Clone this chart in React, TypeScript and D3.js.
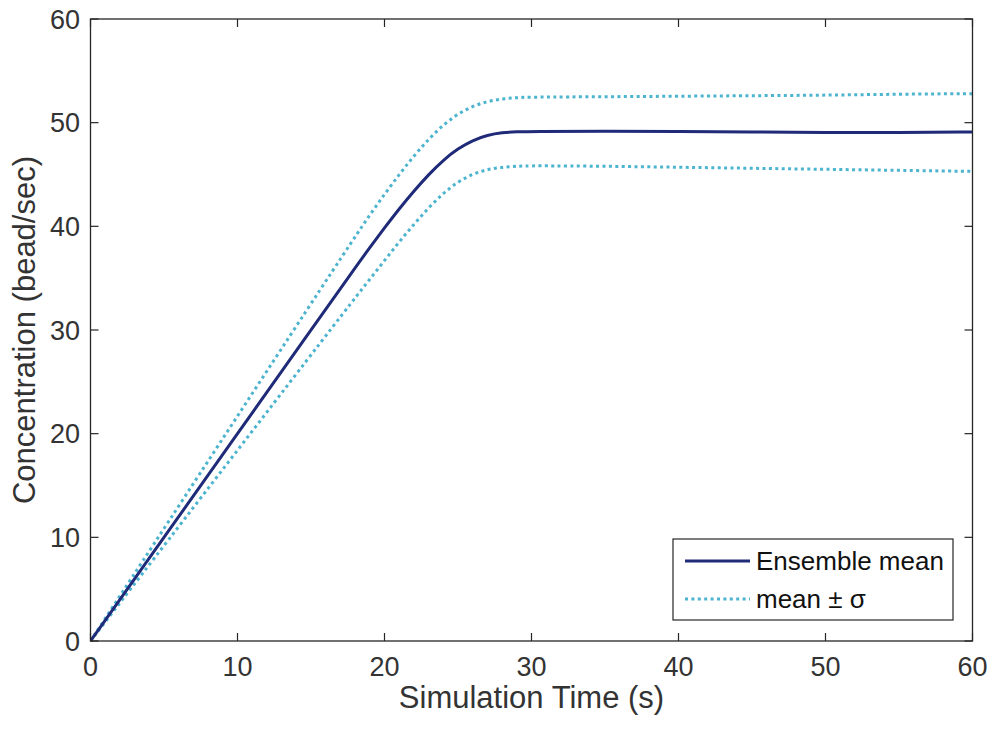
import React from "react";
import * as d3 from "d3";

const timeMean = [0, 2, 5, 10, 15, 18, 19, 20, 21, 22, 23, 24, 25, 26, 27, 28, 29, 30, 35, 40, 45, 50, 55, 60];
const meanValues = [0, 4, 10, 20.0, 30.0, 36.0, 37.95, 39.85, 41.7, 43.4, 45.0, 46.4, 47.5, 48.3, 48.8, 49.05, 49.12, 49.15, 49.2, 49.15, 49.1, 49.05, 49.05, 49.1];

const timeUpper = [0, 2, 5, 10, 15, 18, 19, 20, 21, 22, 23, 24, 25, 26, 27, 28, 29, 30, 35, 40, 45, 50, 55, 60];
const upperValues = [0, 4.34, 10.85, 21.7, 32.55, 39.0, 41.1, 43.1, 45.0, 46.8, 48.4, 49.8, 50.85, 51.6, 52.05, 52.3, 52.42, 52.47, 52.5, 52.55, 52.6, 52.65, 52.75, 52.8];

const timeLower = [0, 2, 5, 10, 15, 18, 19, 20, 21, 22, 23, 24, 25, 26, 27, 28, 29, 30, 35, 40, 45, 50, 55, 60];
const lowerValues = [0, 3.68, 9.2, 18.4, 27.6, 33.1, 34.9, 36.7, 38.5, 40.2, 41.8, 43.2, 44.3, 45.05, 45.5, 45.7, 45.8, 45.85, 45.8, 45.7, 45.6, 45.5, 45.4, 45.3];

const xTicks = [0, 10, 20, 30, 40, 50, 60];
const yTicks = [0, 10, 20, 30, 40, 50, 60];

const legendLabels = ["Ensemble mean", "mean \u00b1 \u03c3"];

const W = 990;
const H = 733;
const plot = { left: 90.5, right: 972.5, top: 19, bottom: 641 };
const axisColor = "#262626";
const textColor = "#333333";
const meanColor = "#1f2a78";
const sigmaColor = "#4cb4cf";
const font = "'Liberation Sans', Arial, Helvetica, sans-serif";

export default function App() {
  const x = d3.scaleLinear().domain([0, 60]).range([plot.left, plot.right]);
  const y = d3.scaleLinear().domain([0, 60]).range([plot.bottom, plot.top]);

  const line = d3
    .line<[number, number]>()
    .x((d) => x(d[0]))
    .y((d) => y(d[1]))
    .curve(d3.curveBasis);

  const meanPath = line(timeMean.map((t, i) => [t, meanValues[i]] as [number, number])) || "";
  const upperPath = line(timeUpper.map((t, i) => [t, upperValues[i]] as [number, number])) || "";
  const lowerPath = line(timeLower.map((t, i) => [t, lowerValues[i]] as [number, number])) || "";

  const tickLen = 8;
  const lg = { x: 673, y: 539, w: 280, h: 81 };

  return (
    <svg width={W} height={H} style={{ position: "absolute", left: 0, top: 0, background: "#fff" }} fontFamily={font}>
      <rect x={0} y={0} width={W} height={H} fill="#fff" />
      <defs>
        <clipPath id="plotclip">
          <rect x={plot.left} y={plot.top - 2} width={plot.right - plot.left} height={plot.bottom - plot.top + 4} />
        </clipPath>
      </defs>

      {/* data lines */}
      <g clipPath="url(#plotclip)" fill="none">
        <path d={upperPath} stroke={sigmaColor} strokeWidth={3} strokeDasharray="3,3.4" />
        <path d={lowerPath} stroke={sigmaColor} strokeWidth={3} strokeDasharray="3,3.4" />
        <path d={meanPath} stroke={meanColor} strokeWidth={3} />
      </g>

      {/* ticks */}
      <g stroke={axisColor} strokeWidth={1.2}>
        {xTicks.map((t) => (
          <g key={"xt" + t}>
            <line x1={x(t)} x2={x(t)} y1={plot.bottom} y2={plot.bottom - tickLen} />
            <line x1={x(t)} x2={x(t)} y1={plot.top} y2={plot.top + tickLen} />
          </g>
        ))}
        {yTicks.map((t) => (
          <g key={"yt" + t}>
            <line x1={plot.left} x2={plot.left + tickLen} y1={y(t)} y2={y(t)} />
            <line x1={plot.right} x2={plot.right - tickLen} y1={y(t)} y2={y(t)} />
          </g>
        ))}
      </g>

      {/* box */}
      <rect
        x={plot.left}
        y={plot.top}
        width={plot.right - plot.left}
        height={plot.bottom - plot.top}
        fill="none"
        stroke={axisColor}
        strokeWidth={1.3}
      />

      {/* tick labels */}
      <g fill={textColor} fontSize={27}>
        {xTicks.map((t) => (
          <text key={"xl" + t} x={x(t)} y={676} textAnchor="middle">
            {t}
          </text>
        ))}
        {yTicks.map((t) => (
          <text key={"yl" + t} x={80} y={y(t)} dy="0.36em" textAnchor="end">
            {t}
          </text>
        ))}
      </g>

      {/* axis labels */}
      <text x={(plot.left + plot.right) / 2} y={708} textAnchor="middle" fontSize={31} fill={textColor}>
        Simulation Time (s)
      </text>
      <text
        transform={`translate(35, ${(plot.top + plot.bottom) / 2}) rotate(-90)`}
        textAnchor="middle"
        fontSize={31}
        fill={textColor}
      >
        Concentration (bead/sec)
      </text>

      {/* legend */}
      <g>
        <rect x={lg.x} y={lg.y} width={lg.w} height={lg.h} fill="#fff" stroke={axisColor} strokeWidth={1.2} />
        <line x1={685} x2={750} y1={561} y2={561} stroke={meanColor} strokeWidth={3} />
        <line x1={685} x2={750} y1={599} y2={599} stroke={sigmaColor} strokeWidth={3} strokeDasharray="3,3.4" />
        <text x={756} y={570} fontSize={26} fill="#111">
          {legendLabels[0]}
        </text>
        <text x={756} y={608} fontSize={26} fill="#111">
          {legendLabels[1]}
        </text>
      </g>
    </svg>
  );
}
